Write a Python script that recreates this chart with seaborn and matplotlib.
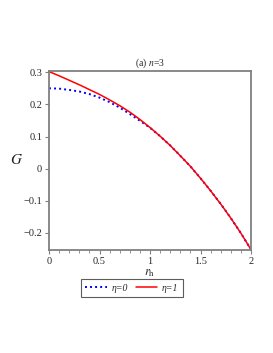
import numpy as np
import pandas as pd
import seaborn as sn
import matplotlib
matplotlib.use("Agg")
import matplotlib.pyplot as plt
from matplotlib.ticker import MultipleLocator, FuncFormatter

# values
r_h = [0.0, 0.1, 0.2, 0.3, 0.4, 0.5, 0.6, 0.7, 0.8, 0.9, 1.0,
       1.1, 1.2, 1.3, 1.4, 1.5, 1.6, 1.7, 1.8, 1.9, 2.0]
g_eta0 = [0.250, 0.249, 0.245, 0.240, 0.232, 0.221, 0.207, 0.190, 0.170, 0.149, 0.127,
          0.101, 0.072, 0.040, 0.007, -0.030, -0.069, -0.110, -0.154, -0.201, -0.252]
g_eta1 = [0.302, 0.289, 0.275, 0.261, 0.246, 0.231, 0.214, 0.196, 0.176, 0.153, 0.128,
          0.101, 0.072, 0.040, 0.007, -0.030, -0.069, -0.110, -0.154, -0.201, -0.252]
x_ticks = [0, 0.5, 1, 1.5, 2]
y_ticks = [-0.2, -0.1, 0, 0.1, 0.2, 0.3]

sn.set_style("ticks")
plt.rcParams["font.family"] = ["Liberation Serif", "DejaVu Serif"]
plt.rcParams["mathtext.fontset"] = "stix"

df = pd.DataFrame({"r": r_h * 2,
                   "G": g_eta0 + g_eta1,
                   "eta": ["η=0"] * len(r_h) + ["η=1"] * len(r_h)})

fig = plt.figure(figsize=(2.73, 3.53), dpi=100)
ax = fig.add_axes([0.1795, 0.292, 0.74, 0.507])

sn.lineplot(data=df[df["eta"] == "η=0"], x="r", y="G", ax=ax,
            color="#0000ff", linestyle=(0, (1, 1.6)), linewidth=1.4,
            label="η=0")
sn.lineplot(data=df[df["eta"] == "η=1"], x="r", y="G", ax=ax,
            color="#ff0000", linewidth=1.1, label="η=1")

ax.set_xlim(0, 2)
ax.set_ylim(-0.253, 0.304)
ax.set_xticks(x_ticks)
ax.set_yticks(y_ticks)
ax.xaxis.set_minor_locator(MultipleLocator(0.1))
fmt = FuncFormatter(lambda v, p: ("%g" % round(v, 2)).replace("-", "\u2212"))
ax.xaxis.set_major_formatter(fmt)
ax.yaxis.set_major_formatter(fmt)
ax.tick_params(axis="both", labelsize=7.5, color="#808080", length=3, width=0.8, pad=2)
ax.tick_params(axis="x", which="minor", length=2, color="#808080", width=0.6)
for s in ax.spines.values():
    s.set_color("#808080")
    s.set_linewidth(1.3)

ax.set_title("(a) $n$=3", fontsize=7, pad=4)
ax.set_xlabel("$r_\\mathrm{h}$", fontsize=9, labelpad=1)
ax.set_ylabel("$G$", fontsize=11, rotation=0, labelpad=5, va="center")

leg = ax.legend(loc="upper center", bbox_to_anchor=(0.41, -0.165), ncol=2,
                prop={"size": 7, "style": "italic"}, frameon=True, fancybox=False,
                handlelength=2.2, columnspacing=0.8, borderpad=0.45,
                handletextpad=0.5, borderaxespad=0)
leg.get_frame().set_edgecolor("#333333")
leg.get_frame().set_linewidth(0.8)

fig.savefig("out.png", dpi=100)
